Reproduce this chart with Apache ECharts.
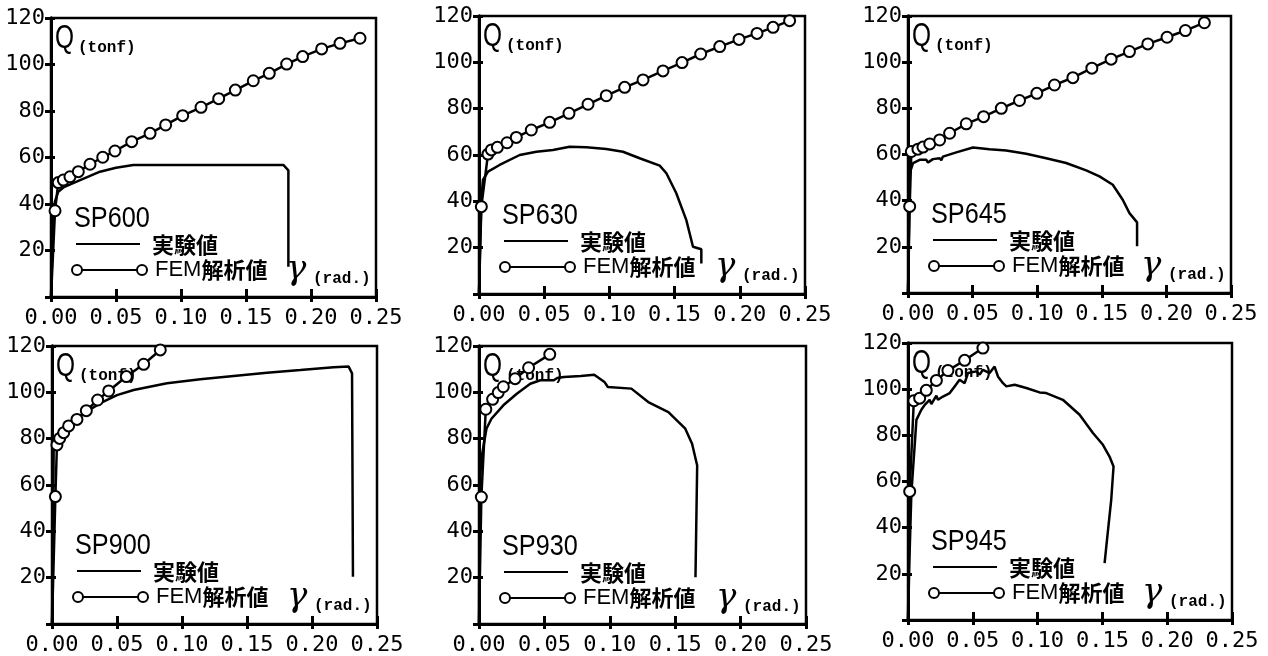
<!DOCTYPE html>
<html>
<head>
<meta charset="utf-8">
<title>Q-γ</title>
<script src="https://cdn.jsdelivr.net/npm/echarts@6.0.0/dist/echarts.min.js"></script>
<style>
html,body{margin:0;padding:0;background:#fff;}
#main{width:1268px;height:656px;}
</style>
</head>
<body>
<div id="main"></div>
<script>
// axis ranges
var xMin = 0, xMax = 0.25, xStep = 0.05;
var yMin = 0, yMax = 120, yStep = 20;

var specimens = ['SP600', 'SP630', 'SP645', 'SP900', 'SP930', 'SP945'];
var expName = '実験値';
var femName = 'FEM解析値';

// 実験値 (gamma rad, Q tonf)
var sp600Exp = [[0,0],[0.001,20],[0.002,35],[0.003,41],[0.0056,45.3],[0.01,47.3],[0.0197,49.6],[0.0377,53.9],[0.05,55.6],[0.0633,56.8],[0.1787,56.8],[0.1826,54.5],[0.1826,13]];
var sp630Exp = [[0,0],[0.001,25],[0.002,42],[0.003,49.2],[0.0069,52.8],[0.0158,55.7],[0.0312,60],[0.044,61.4],[0.0567,62.2],[0.0695,63.6],[0.0823,63.3],[0.0976,62.6],[0.1104,61.4],[0.1232,58.6],[0.1386,55.4],[0.1437,52.1],[0.1513,43.5],[0.159,31.9],[0.1641,20.4],[0.1705,19.3],[0.1705,13.2]];
var sp645Exp = [[0,0],[0.0008,30],[0.0013,51.9],[0.0039,56.3],[0.009,57.7],[0.0142,57.7],[0.0155,56.5],[0.0193,58],[0.0245,58.4],[0.0258,57.5],[0.027,59.1],[0.0374,60.9],[0.0503,63],[0.0631,62.3],[0.076,61.7],[0.0915,60.3],[0.107,58.4],[0.1224,56.3],[0.1379,53.1],[0.1482,50.5],[0.1585,46.9],[0.1662,40.4],[0.1714,34.6],[0.1773,30.6],[0.1773,20.2]];
var sp900Exp = [[0,0],[0.0008,40],[0.0013,76.5],[0.0038,81.6],[0.0115,85.9],[0.0244,90.9],[0.0372,95.3],[0.05,98.8],[0.0628,101],[0.0885,103.9],[0.1141,105.6],[0.1397,107.1],[0.1654,108.5],[0.191,109.6],[0.2167,110.8],[0.2282,111.1],[0.2308,108.2],[0.2315,20.4]];
var sp930Exp = [[0,0],[0.0005,59.8],[0.0018,71.3],[0.0057,84.3],[0.0095,88.6],[0.0186,94.4],[0.0289,99.4],[0.0392,103.7],[0.0469,105.2],[0.0572,105.2],[0.0598,106.2],[0.0649,106.6],[0.0778,107.1],[0.0881,107.6],[0.0959,104.5],[0.0985,102.3],[0.1165,101.6],[0.1294,95.8],[0.1448,91.5],[0.1577,84.3],[0.1629,77.8],[0.1668,68.4],[0.1655,20.2]];
var sp945Exp = [[0,0],[0.0013,30],[0.0026,54.9],[0.0051,75.2],[0.0065,86.7],[0.0103,91.1],[0.0129,93.2],[0.0167,95.4],[0.018,93.5],[0.0219,97.2],[0.0231,95.4],[0.027,96.8],[0.0322,98.3],[0.036,101.2],[0.0398,104.1],[0.0437,102.6],[0.0463,107],[0.0527,107.7],[0.0553,106.3],[0.0578,108.4],[0.063,107],[0.0668,109.8],[0.0694,105.5],[0.0733,102.6],[0.0759,101.2],[0.0823,101.9],[0.0913,100.5],[0.1015,98.6],[0.1067,98.3],[0.1195,95.4],[0.1324,88.9],[0.1427,81],[0.1504,75.9],[0.1555,70.8],[0.1586,66.5],[0.1568,52],[0.153,31.8],[0.1517,24.6]];

// FEM解析値
var sp600Fem = [[0,0],[0.0031,37.1],[0.0056,49.2],[0.0095,50.3],[0.0146,51.7],[0.021,53.9],[0.03,57.1],[0.0398,60.1],[0.0492,62.8],[0.0621,66.8],[0.0762,70.4],[0.0882,74],[0.1013,78],[0.1154,81.6],[0.129,85.3],[0.1418,89],[0.1556,93],[0.1679,96.2],[0.1813,100.2],[0.1936,103.4],[0.2082,106.7],[0.2223,109.1],[0.2377,111.3]];
var sp630Fem = [[0,0],[0.0018,37.7],[0.0069,60.4],[0.0095,62.2],[0.0141,63.3],[0.0215,65.3],[0.0286,67.6],[0.0401,70.8],[0.0542,74.1],[0.069,78],[0.0836,81.9],[0.0976,85.6],[0.1117,89.2],[0.1258,92.4],[0.1411,96.3],[0.1557,99.9],[0.17,103.6],[0.1846,106.8],[0.1994,109.9],[0.2132,112.5],[0.2255,115.1],[0.2382,118]];
var sp645Fem = [[0,0],[0.0013,37.5],[0.0026,61.3],[0.0077,62.3],[0.0116,63.2],[0.0168,64.6],[0.0245,66.3],[0.0322,69.2],[0.0451,73.3],[0.0585,76.4],[0.0722,80],[0.0863,83.4],[0.0997,86.5],[0.1134,90.1],[0.1276,93.3],[0.1423,97.4],[0.1572,101.3],[0.1714,104.6],[0.1856,107.9],[0.2005,110.8],[0.2147,113.7],[0.2294,117.1]];
var sp900Fem = [[0,0],[0.0026,55],[0.0038,77.3],[0.0059,80.1],[0.009,82.6],[0.0128,85.5],[0.0192,88.3],[0.0264,92.1],[0.0351,96.7],[0.0436,100.6],[0.0572,106.8],[0.0705,112.1],[0.0833,118.3]];
var sp930Fem = [[0,0],[0.0018,54.8],[0.0052,92.7],[0.0104,97],[0.0147,99.9],[0.0186,102.4],[0.0276,105.9],[0.0379,110.6],[0.0541,116.4]];
var sp945Fem = [[0,0],[0.0013,55.7],[0.0045,95],[0.009,96.1],[0.0141,99.5],[0.0219,103.8],[0.0308,108.1],[0.0437,112.5],[0.0578,117.8]];

var expList = [sp600Exp, sp630Exp, sp645Exp, sp900Exp, sp930Exp, sp945Exp];
var femList = [sp600Fem, sp630Fem, sp645Fem, sp900Fem, sp930Fem, sp945Fem];

// panel boxes: left, top, width, height
var boxes = [
	[51, 18, 325, 279],
	[479, 16, 326, 278],
	[908, 16, 323, 277],
	[52, 346, 325, 278],
	[479, 346, 327, 279],
	[908, 343, 324, 277]
];

var tickFont = 'DejaVu Sans Mono';
var smallFont = 'Liberation Mono';
var sansFont = 'Liberation Sans';
var cjkFont = 'Noto Sans CJK JP';

function makeAxes(i){
	var xa = [], ya = [];
	var line = {show: true, onZero: false, lineStyle: {color: '#000', width: 3}};
	// outer ticks + labels
	xa.push({
		gridIndex: i, type: 'value', position: 'bottom',
		min: xMin, max: xMax, interval: xStep,
		axisLine: line,
		axisTick: {show: true, inside: false, length: 5, lineStyle: {color: '#000', width: 3}},
		axisLabel: {show: true, margin: 10, color: '#000', fontFamily: tickFont, fontSize: 22,
			showMinLabel: true, showMaxLabel: true,
			formatter: function(v){ return v.toFixed(2); }},
		splitLine: {show: false}
	});
	// inner ticks (FEM series sits on this pair, same scale)
	xa.push({
		gridIndex: i, type: 'value', position: 'bottom',
		min: xMin, max: xMax, interval: xStep,
		axisLine: line,
		axisTick: {show: true, inside: true, length: 8, lineStyle: {color: '#000', width: 3}},
		axisLabel: {show: false},
		splitLine: {show: false}
	});
	ya.push({
		gridIndex: i, type: 'value', position: 'left',
		min: yMin, max: yMax, interval: yStep,
		axisLine: line,
		axisTick: {show: true, inside: false, length: 6, lineStyle: {color: '#000', width: 3}},
		axisLabel: {show: true, margin: 6, color: '#000', fontFamily: tickFont, fontSize: 22,
			formatter: function(v){ return v === 0 ? '' : String(v); }},
		splitLine: {show: false}
	});
	ya.push({
		gridIndex: i, type: 'value', position: 'left',
		min: yMin, max: yMax, interval: yStep,
		axisLine: line,
		axisTick: {show: true, inside: true, length: 4, lineStyle: {color: '#000', width: 3}},
		axisLabel: {show: false},
		splitLine: {show: false}
	});
	return {x: xa, y: ya};
}

function makeTexts(i){
	var b = boxes[i];
	var l = b[0], t = b[1], r = b[0] + b[2], bt = b[1] + b[3];
	var g = [];
	g.push({type: 'text', x: l + 4, y: t + 21, scaleX: 0.72,
		style: {text: 'Q', fontFamily: sansFont, fontSize: 34, fill: '#000', align: 'left', verticalAlign: 'middle'}});
	g.push({type: 'text', x: l + 27, y: t + 30,
		style: {text: '(tonf)', fontFamily: smallFont, fontWeight: 'bold', fontSize: 16, fill: '#000', align: 'left', verticalAlign: 'middle'}});
	g.push({type: 'text', x: l + 23, y: bt - 78, scaleX: 0.87,
		style: {text: specimens[i], fontFamily: sansFont, fontSize: 29, fill: '#000', align: 'left', verticalAlign: 'middle'}});
	// legend samples
	g.push({type: 'line', shape: {x1: l + 25, y1: bt - 53, x2: l + 89, y2: bt - 53},
		style: {stroke: '#000', lineWidth: 2}});
	g.push({type: 'text', x: l + 101, y: bt - 52,
		style: {text: expName, fontFamily: cjkFont, fontWeight: 'bold', fontSize: 22, fill: '#000', align: 'left', verticalAlign: 'middle'}});
	g.push({type: 'line', shape: {x1: l + 26, y1: bt - 27, x2: l + 91, y2: bt - 27},
		style: {stroke: '#000', lineWidth: 2}});
	g.push({type: 'circle', shape: {cx: l + 26, cy: bt - 27, r: 5},
		style: {fill: '#fff', stroke: '#000', lineWidth: 2}});
	g.push({type: 'circle', shape: {cx: l + 91, cy: bt - 27, r: 5},
		style: {fill: '#fff', stroke: '#000', lineWidth: 2}});
	g.push({type: 'text', x: l + 104, y: bt - 27,
		style: {text: '{a|FEM}{b|解析値}', fill: '#000', align: 'left', verticalAlign: 'middle',
			rich: {
				a: {fontFamily: sansFont, fontSize: 22, fill: '#000'},
				b: {fontFamily: cjkFont, fontWeight: 'bold', fontSize: 22, fill: '#000'}
			}}});
	g.push({type: 'text', x: r - 90, y: bt - 27,
		style: {text: 'γ', fontFamily: 'DejaVu Serif', fontStyle: 'italic', fontSize: 34, fill: '#000', align: 'left', verticalAlign: 'middle'}});
	g.push({type: 'text', x: r - 63, y: bt - 18,
		style: {text: '(rad.)', fontFamily: smallFont, fontWeight: 'bold', fontSize: 16, fill: '#000', align: 'left', verticalAlign: 'middle'}});
	return g;
}

function drawChart(){
	var grids = [], xAxes = [], yAxes = [], series = [], graphics = [];
	for(var i = 0; i < specimens.length; i++){
		var b = boxes[i];
		grids.push({left: b[0], top: b[1], width: b[2], height: b[3],
			show: true, borderColor: '#000', borderWidth: 2.5, backgroundColor: 'transparent'});
		var ax = makeAxes(i);
		xAxes = xAxes.concat(ax.x);
		yAxes = yAxes.concat(ax.y);
		series.push({
			name: expName, type: 'line', xAxisIndex: i * 2, yAxisIndex: i * 2,
			data: expList[i], symbol: 'none', silent: true,
			lineStyle: {color: '#000', width: 2.5}, z: 3
		});
		var fem = [];
		for(var k = 0; k < femList[i].length; k++){
			var p = femList[i][k];
			if(k == 0){
				fem.push({value: p, symbol: 'none'});
			}else{
				fem.push(p);
			}
		}
		series.push({
			name: femName, type: 'line', xAxisIndex: i * 2 + 1, yAxisIndex: i * 2 + 1,
			data: fem, symbol: 'emptyCircle', symbolSize: 11, silent: true,
			lineStyle: {color: '#000', width: 2.5},
			itemStyle: {color: '#000', borderColor: '#000', borderWidth: 2.5}, z: 4
		});
		graphics = graphics.concat(makeTexts(i));
	}

	var myChart = echarts.init(document.getElementById('main'), null, {renderer: 'canvas'});
	var option = {
		backgroundColor: '#fff',
		animation: false,
		grid: grids,
		xAxis: xAxes,
		yAxis: yAxes,
		series: series,
		graphic: {elements: graphics}
	};
	myChart.setOption(option);
}

drawChart();
</script>
</body>
</html>
